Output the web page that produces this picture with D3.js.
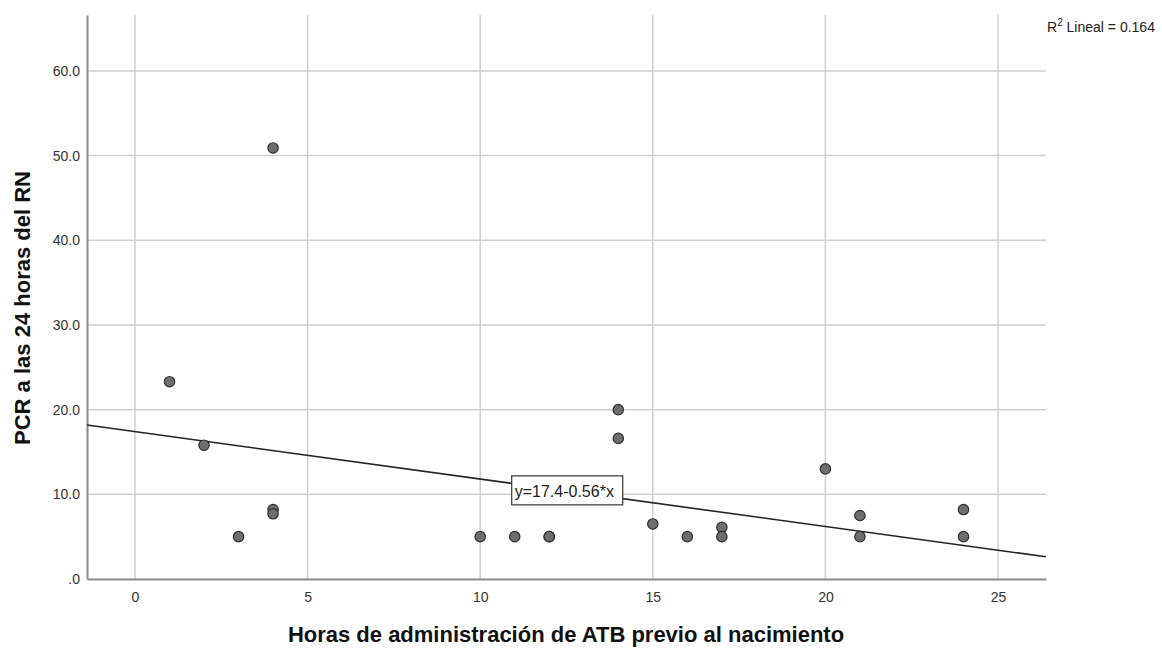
<!DOCTYPE html>
<html>
<head>
<meta charset="utf-8">
<title>PCR vs horas ATB</title>
<script src="https://d3js.org/d3.v7.min.js"></script>
<style>
body {margin:0; background:#fff;}
svg {font-family:'Liberation Sans', Arial, sans-serif;}
</style>
</head>
<body>
<svg width="1162" height="648"></svg>
<script>
// data
var horas = [1, 2, 3, 4, 4, 4, 10, 11, 12, 12, 14, 14, 15, 16, 17, 17, 20, 21, 21, 24, 24]
var pcr   = [23.3, 15.8, 5.0, 8.2, 7.7, 50.9, 5.0, 5.0, 5.0, 5.0, 20.0, 16.6, 6.5, 5.0, 6.1, 5.0, 13.0, 7.5, 5.0, 8.2, 5.0]
var xTicks = [0, 5, 10, 15, 20, 25]
var yTicks = [0, 10, 20, 30, 40, 50, 60]
var intercept = 17.4
var slope = -0.56
var r2 = 0.164

var mLeft = 87, mTop = 15, width = 959, height = 564
var svg = d3.select('svg')

var x = d3.scaleLinear().domain([-1.39, 26.39]).range([0, width])
var y = d3.scaleLinear().domain([0, 66.6]).range([height, 0])

var g = svg.append('g').attr('transform', 'translate(' + mLeft + ',' + mTop + ')')

//gridlines
g.selectAll('.vgrid').data(xTicks).enter().append('line')
   .attr('x1', d => x(d)).attr('x2', d => x(d))
   .attr('y1', 0).attr('y2', height)
   .attr('stroke', '#cfcfcf').attr('stroke-width', 1.5)
g.selectAll('.hgrid').data(yTicks.slice(1)).enter().append('line')
   .attr('x1', 0).attr('x2', width)
   .attr('y1', d => y(d)).attr('y2', d => y(d))
   .attr('stroke', '#cfcfcf').attr('stroke-width', 1.5)

//axes
var yAxis = g.append('g')
   .call(d3.axisLeft(y).tickValues(yTicks).tickSize(0).tickPadding(7)
      .tickFormat(d => d === 0 ? '.0' : d.toFixed(1)))
var xAxis = g.append('g').attr('transform', 'translate(0,' + height + ')')
   .call(d3.axisBottom(x).tickValues(xTicks).tickSize(0).tickPadding(13))
;[yAxis, xAxis].forEach(function(a) {
  a.select('.domain').attr('stroke', '#8a8a8a').attr('stroke-width', 2)
  a.selectAll('text').attr('font-size', 14).attr('fill', '#333')
    .attr('font-family', "'Liberation Sans', Arial, sans-serif")
})

//fit line
g.append('line')
   .attr('x1', x(-1.39)).attr('y1', y(intercept + slope * -1.39))
   .attr('x2', x(26.39)).attr('y2', y(intercept + slope * 26.39))
   .attr('stroke', '#222').attr('stroke-width', 1.6)

//points
g.selectAll('circle').data(horas).enter().append('circle')
   .attr('cx', d => x(d))
   .attr('cy', (d, i) => y(pcr[i]))
   .attr('r', 5.2)
   .attr('fill', '#6e6e6e')
   .attr('stroke', '#2e2e2e')
   .attr('stroke-width', 1.2)

//equation label
var eq = g.append('g').attr('transform', 'translate(' + (x(11.0) - 3) + ',' + y(9.7) + ')')
eq.append('rect').attr('x', 0).attr('y', -21).attr('width', 111).attr('height', 29)
   .attr('fill', '#fff').attr('stroke', '#333').attr('stroke-width', 1.2)
eq.append('text').attr('x', 3).attr('y', 0).attr('font-size', 16).attr('fill', '#222')
   .text('y=' + intercept + slope.toFixed(2) + '*x')

//R2 label
var rt = svg.append('text').attr('x', 1047).attr('y', 32).attr('font-size', 14).attr('fill', '#222')
rt.append('tspan').text('R')
rt.append('tspan').attr('dy', -6).attr('font-size', 10).text('2')
rt.append('tspan').attr('dy', 6).text(' Lineal = ' + r2)

//axis titles
svg.append('text')
   .attr('text-anchor', 'middle')
   .attr('x', 566).attr('y', 642)
   .attr('font-size', 22).attr('font-weight', 'bold').attr('fill', '#111')
   .text('Horas de administración de ATB previo al nacimiento')
svg.append('text')
   .attr('text-anchor', 'middle')
   .attr('transform', 'translate(30,308) rotate(-90)')
   .attr('font-size', 22).attr('font-weight', 'bold').attr('fill', '#111')
   .text('PCR a las 24 horas del RN')
</script>
</body>
</html>
